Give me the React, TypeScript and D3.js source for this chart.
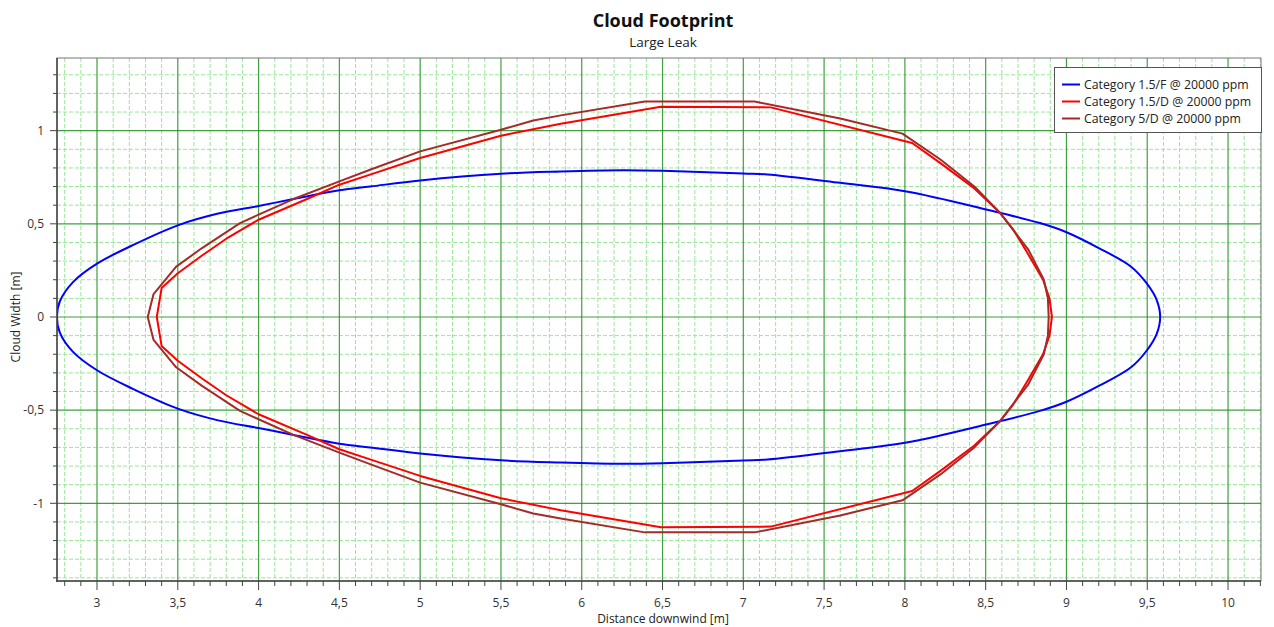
import React from "react";
import * as d3 from "d3";

// ---- Data (upper half-width of each cloud footprint; footprint is symmetric about 0) ----
const BLUE_X = [2.752, 2.77, 2.85, 3.0, 3.225, 3.5, 3.75, 4.0, 4.216, 4.5, 4.69, 5.0, 5.5, 5.87, 6.25, 6.5, 7.0, 7.15, 7.6, 8.01, 8.51, 8.836, 9.0, 9.2, 9.4, 9.497, 9.558, 9.58];
const BLUE_Y = [0, 0.084, 0.186, 0.286, 0.387, 0.492, 0.555, 0.596, 0.633, 0.68, 0.70, 0.733, 0.769, 0.781, 0.788, 0.785, 0.77, 0.765, 0.72, 0.674, 0.576, 0.504, 0.455, 0.37, 0.27, 0.18, 0.092, 0];

const RED_X = [3.37, 3.40, 3.5, 3.65, 3.8, 4.0, 4.3, 4.5, 4.69, 5.0, 5.5, 5.87, 6.49, 7.17, 8.045, 8.22, 8.43, 8.59, 8.67, 8.754, 8.855, 8.895, 8.91];
const RED_Y = [0, 0.156, 0.235, 0.33, 0.42, 0.522, 0.633, 0.71, 0.764, 0.853, 0.973, 1.037, 1.128, 1.125, 0.934, 0.826, 0.69, 0.558, 0.47, 0.35, 0.2, 0.1, 0];

const BROWN_X = [3.314, 3.35, 3.49, 3.65, 3.885, 4.0, 4.216, 4.5, 4.69, 5.0, 5.5, 5.7, 5.87, 6.39, 7.07, 7.6, 7.985, 8.22, 8.43, 8.59, 8.765, 8.86, 8.885, 8.89];
const BROWN_Y = [0, 0.123, 0.27, 0.37, 0.504, 0.549, 0.633, 0.728, 0.79, 0.889, 1.005, 1.055, 1.082, 1.156, 1.156, 1.065, 0.984, 0.845, 0.70, 0.558, 0.36, 0.2, 0.1, 0];

const SERIES_NAMES = ["Category 1.5/F @ 20000 ppm", "Category 1.5/D @ 20000 ppm", "Category 5/D @ 20000 ppm"];
const SERIES_COLORS = ["#0000FF", "#FF0000", "#A52A2A"];

const X_DOMAIN = [2.7524, 10.204];
const Y_DOMAIN = [-1.417, 1.39];
const X_MAJOR_TICKS = [3, 3.5, 4, 4.5, 5, 5.5, 6, 6.5, 7, 7.5, 8, 8.5, 9, 9.5, 10];
const Y_MAJOR_TICKS = [-1, -0.5, 0, 0.5, 1];

const TITLE = "Cloud Footprint";
const SUBTITLE = "Large Leak";
const X_LABEL = "Distance downwind [m]";
const Y_LABEL = "Cloud Width [m]";

const W = 1274;
const H = 627;
const PL = 57, PR = 1261, PT = 58, PB = 581;
const FONT = "'Segoe UI', 'Open Sans', 'Noto Sans', sans-serif";

export default function App() {
  const x = d3.scaleLinear().domain(X_DOMAIN).range([PL, PR]);
  const y = d3.scaleLinear().domain(Y_DOMAIN).range([PB, PT]);

  const xMinor = d3
    .range(Math.ceil(X_DOMAIN[0] * 10), Math.floor(X_DOMAIN[1] * 10) + 1)
    .map((i) => i / 10);
  const yMinor = d3
    .range(Math.ceil(Y_DOMAIN[0] * 10), Math.floor(Y_DOMAIN[1] * 10) + 1)
    .map((i) => i / 10);
  const isMajor = (v: number) => Math.abs(v * 2 - Math.round(v * 2)) < 1e-6;

  const fmt = (v: number) => d3.format("~g")(v).replace(".", ",").replace("−", "-");

  const smoothLine = d3
    .line<[number, number]>()
    .x((d) => x(d[0]))
    .y((d) => y(d[1]))
    .curve(d3.curveCatmullRomClosed.alpha(0.5));
  const straightLine = d3
    .line<[number, number]>()
    .x((d) => x(d[0]))
    .y((d) => y(d[1]))
    .curve(d3.curveLinearClosed);

  const outline = (xs: number[], ys: number[]): [number, number][] => {
    const upper = xs.map((v, i) => [v, ys[i]] as [number, number]);
    const lower = xs
      .slice(1, -1)
      .map((v, i) => [v, -ys[i + 1]] as [number, number])
      .reverse();
    return upper.concat(lower);
  };

  const series = [
    { pts: outline(BLUE_X, BLUE_Y), gen: smoothLine },
    { pts: outline(RED_X, RED_Y), gen: straightLine },
    { pts: outline(BROWN_X, BROWN_Y), gen: straightLine },
  ];

  return (
    <div style={{ position: "absolute", left: 0, top: 0, width: W, height: H, background: "#fff" }}>
      <svg width={W} height={H} style={{ display: "block", fontFamily: FONT }}>
        <rect x={0} y={0} width={W} height={H} fill="#fff" />
        <text x={663} y={27} textAnchor="middle" fontSize={18} fontWeight="bold" fill="#111">
          {TITLE}
        </text>
        <text x={663} y={47} textAnchor="middle" fontSize={13.5} fill="#222">
          {SUBTITLE}
        </text>

        <defs>
          <clipPath id="plotclip">
            <rect x={PL} y={PT} width={PR - PL} height={PB - PT} />
          </clipPath>
        </defs>

        {/* minor grid */}
        <g stroke="#98e898" strokeWidth={1} strokeDasharray="4,2">
          {xMinor.filter((v) => !isMajor(v)).map((v) => (
            <line key={"xm" + v} x1={x(v)} x2={x(v)} y1={PT} y2={PB} />
          ))}
          {yMinor.filter((v) => !isMajor(v)).map((v) => (
            <line key={"ym" + v} x1={PL} x2={PR} y1={y(v)} y2={y(v)} />
          ))}
        </g>
        {/* major grid */}
        <g stroke="#1f8f1f" strokeWidth={1.2} strokeOpacity={0.85}>
          {X_MAJOR_TICKS.map((v) => (
            <line key={"xM" + v} x1={x(v)} x2={x(v)} y1={PT} y2={PB} />
          ))}
          {Y_MAJOR_TICKS.map((v) => (
            <line key={"yM" + v} x1={PL} x2={PR} y1={y(v)} y2={y(v)} />
          ))}
        </g>

        {/* frame */}
        <rect x={PL} y={PT} width={PR - PL} height={PB - PT} fill="none" stroke="#777" strokeWidth={1} />

        {/* series */}
        <g clipPath="url(#plotclip)" fill="none" strokeWidth={2} strokeLinejoin="round">
          {series.map((s, i) => (
            <path key={i} d={s.gen(s.pts) || ""} stroke={SERIES_COLORS[i]} />
          ))}
        </g>

        {/* axes */}
        <g stroke="#444" strokeWidth={1.5}>
          <line x1={PL} x2={PL} y1={PT} y2={PB + 1} />
          <line x1={PL - 1} x2={PR} y1={PB} y2={PB} />
        </g>
        <g stroke="#444" strokeWidth={1}>
          {xMinor.map((v) => (
            <line key={"xt" + v} x1={x(v)} x2={x(v)} y1={PB} y2={PB + (isMajor(v) ? 9 : 5)} />
          ))}
          {yMinor.map((v) => (
            <line key={"yt" + v} x1={PL - (isMajor(v) ? 7 : 4)} x2={PL} y1={y(v)} y2={y(v)} />
          ))}
        </g>
        <g fontSize={12} fill="#333">
          {X_MAJOR_TICKS.map((v) => (
            <text key={"xl" + v} x={x(v)} y={606.5} textAnchor="middle">
              {fmt(v)}
            </text>
          ))}
          {Y_MAJOR_TICKS.map((v) => (
            <text key={"yl" + v} x={44} y={y(v)} dy="0.35em" textAnchor="end">
              {fmt(v)}
            </text>
          ))}
        </g>
        <text x={663} y={622.5} textAnchor="middle" fontSize={12} fill="#222">
          {X_LABEL}
        </text>
        <text
          transform={`translate(20, ${y(0)}) rotate(-90)`}
          textAnchor="middle"
          fontSize={12}
          fill="#222"
        >
          {Y_LABEL}
        </text>

        {/* legend */}
        <g>
          <rect x={1054.5} y={67.5} width={207} height={65} fill="#fff" stroke="#555" strokeWidth={1} />
          {SERIES_NAMES.map((name, i) => (
            <g key={name} transform={`translate(0, ${84.5 + i * 17})`}>
              <line x1={1062} x2={1080} y1={0} y2={0} stroke={SERIES_COLORS[i]} strokeWidth={2} />
              <text x={1084} y={0} dy="0.35em" fontSize={12.3} fill="#222">
                {name}
              </text>
            </g>
          ))}
        </g>
      </svg>
    </div>
  );
}
